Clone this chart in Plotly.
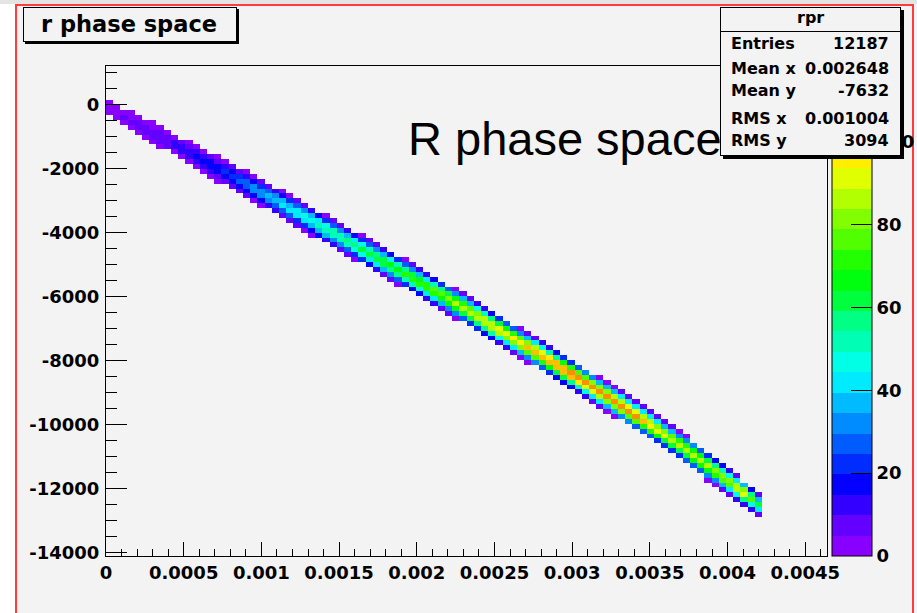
import numpy as np
import plotly.graph_objects as go

# ---------------- data ----------------
# 2D histogram binning (ROOT TH2 "rpr")
X_MIN, X_MAX, NX = 0.0, 0.00464, 100
Y_MIN, Y_MAX, NY = -14100.0, 1200.0, 100

# ridge of the populated band: x position, band-centre y, peak bin count, half thickness in y
ridge_x = [0.0, 0.0002, 0.0004, 0.0006, 0.0008, 0.0010, 0.0012, 0.0014, 0.0016, 0.0018,
           0.0020, 0.0022, 0.0024, 0.0026, 0.0028, 0.0030, 0.0032, 0.0034, 0.0036, 0.0038,
           0.0040, 0.0041, 0.0042]
ridge_y = [-60, -600, -1150, -1690, -2230, -2760, -3300, -3850, -4400, -4950,
           -5500, -6070, -6660, -7250, -7840, -8440, -9050, -9680, -10330, -11020,
           -11740, -12120, -12500]
ridge_peak = [3, 6, 10, 16, 24, 36, 44, 52, 60, 66,
              74, 82, 90, 96, 104, 110, 106, 108, 92, 86,
              84, 96, 60]
ridge_halfwidth = [220, 300, 340, 380, 410, 430, 440, 450, 460, 460,
                   465, 470, 470, 470, 470, 470, 470, 460, 455, 450,
                   440, 420, 350]
x_end = 0.00422
# cross-section profile across the band (fraction of peak vs distance / half thickness)
profile_r = [0.0, 0.2, 0.4, 0.6, 0.8, 0.95, 1.0]
profile_f = [1.0, 0.92, 0.70, 0.42, 0.18, 0.06, 0.0]

# axis ticks
x_tickvals = [0, 0.0005, 0.001, 0.0015, 0.002, 0.0025, 0.003, 0.0035, 0.004, 0.0045]
x_ticktext = ["0", "0.0005", "0.001", "0.0015", "0.002", "0.0025", "0.003", "0.0035", "0.004", "0.0045"]
y_tickvals = [-14000, -12000, -10000, -8000, -6000, -4000, -2000, 0]
y_ticktext = ["-14000", "-12000", "-10000", "-8000", "-6000", "-4000", "-2000", "0"]
z_tickvals = [0, 20, 40, 60, 80, 100]
Z_MAX = 118.3

# statistics box
stats_title = "rpr"
stats_labels = ["Entries", "Mean x", "Mean y", "RMS x", "RMS y"]
stats_values = ["12187", "0.002648", "-7632", "0.001004", "3094"]

# ROOT "pretty" palette, 24 contour bands
palette = ["#8800ff", "#6300ff", "#3300ff", "#0300ff", "#002cff", "#005cff", "#008bff", "#00bbff",
           "#00ebff", "#00ffe4", "#00ffb4", "#00ff85", "#00ff3d", "#00ff0e", "#22ff00", "#52ff00",
           "#81ff00", "#b1ff00", "#e0ff00", "#ffee00", "#ffbe00", "#ff8f00", "#ff5f00", "#ff3000"]

# ---------------- build histogram ----------------
xe = np.linspace(X_MIN, X_MAX, NX + 1)
ye = np.linspace(Y_MIN, Y_MAX, NY + 1)
xc = 0.5 * (xe[:-1] + xe[1:])
yc = 0.5 * (ye[:-1] + ye[1:])
z = np.full((NY, NX), np.nan)
for i, x in enumerate(xc):
    if x > x_end:
        continue
    c = np.interp(x, ridge_x, ridge_y)
    p = np.interp(x, ridge_x, ridge_peak)
    h = np.interp(x, ridge_x, ridge_halfwidth)
    r = np.abs(yc - c) / h
    f = np.interp(r, profile_r, profile_f, right=0.0)
    inside = r < 1.0
    z[inside, i] = np.maximum(1.0, np.round(p * f[inside]))

nb = len(palette)
colorscale = []
for k, col in enumerate(palette):
    colorscale.append([k / nb, col])
    colorscale.append([(k + 1) / nb, col])

# ---------------- geometry (pixels) ----------------
W, H = 917, 613
L, R, T, B = 106, 827, 66, 556
def px(xp):
    return (xp - L) / (R - L)
def py(yp):
    return (B - yp) / (B - T)

BG = "#f3f3f3"
BOLD = "DejaVu Sans"

fig = go.Figure()
fig.add_trace(go.Heatmap(
    x=xc, y=yc, z=z, zmin=0, zmax=Z_MAX, colorscale=colorscale, zsmooth=False,
    hoverongaps=False,
    colorbar=dict(
        x=px(832), xanchor="left", xref="paper", y=0, yanchor="bottom", yref="paper",
        len=1, lenmode="fraction", thickness=40, thicknessmode="pixels",
        xpad=0, ypad=0, outlinewidth=1, outlinecolor="black",
        ticks="inside", ticklen=21, tickwidth=1, tickcolor="black",
        tickmode="array", tickvals=z_tickvals, ticktext=[str(v) for v in z_tickvals],
        tickfont=dict(family=BOLD, size=18, color="black", weight="bold"),
        ticklabelposition="outside",
    ),
))

axis_common = dict(showgrid=False, zeroline=False, showline=True, linecolor="black", linewidth=1,
                   mirror=True, ticks="inside", tickcolor="black", tickwidth=1,
                   tickfont=dict(family=BOLD, size=18, color="black", weight="bold"))
fig.update_xaxes(range=[X_MIN, X_MAX], tickmode="array", tickvals=x_tickvals, ticktext=x_ticktext,
                 ticklen=14, minor=dict(dtick=0.0001, tick0=0, ticks="inside", ticklen=7,
                                        tickcolor="black", tickwidth=1),
                 **axis_common)
fig.update_yaxes(range=[Y_MIN, Y_MAX], tickmode="array", tickvals=y_tickvals, ticktext=y_ticktext,
                 ticklen=21, minor=dict(dtick=500, tick0=0, ticks="inside", ticklen=11,
                                        tickcolor="black", tickwidth=1),
                 ticklabelstandoff=2,
                 **axis_common)

shapes = [
    dict(type="rect", xref="paper", yref="paper", x0=px(0), x1=px(15), y0=py(H), y1=py(0),
         fillcolor="white", line=dict(width=0), layer="below"),
    dict(type="rect", xref="paper", yref="paper", x0=px(0), x1=px(W), y0=py(4), y1=py(0),
         fillcolor="#e4e4e4", line=dict(width=0), layer="below"),
    dict(type="rect", xref="paper", yref="paper", x0=px(16), x1=px(913), y0=py(H + 5), y1=py(5),
         fillcolor="rgba(0,0,0,0)", line=dict(color="#ff3b3b", width=2), layer="above"),
]
fig.update_layout(shapes=shapes)

ann = []
ann.append(dict(text="R phase space", xref="paper", yref="paper", x=px(406), y=py(138),
                xanchor="left", yanchor="middle", showarrow=False,
                font=dict(family="Liberation Sans", size=47, color="black")))
def box(x0, y0, x1, y1, fill, bw=1):
    return dict(text=" ", xref="paper", yref="paper", x=px((x0 + x1) / 2), y=py((y0 + y1) / 2),
                xanchor="center", yanchor="middle", showarrow=False, width=x1 - x0 - bw,
                height=y1 - y0 - bw, bgcolor=fill, bordercolor="black", borderwidth=bw, borderpad=0,
                font=dict(size=1))
ann.append(box(25.3, 9.3, 238.7, 43.7, "black"))
ann.append(box(23.3, 7.3, 236.7, 41.7, BG))
ann.append(dict(text="r phase space", xref="paper", yref="paper", x=px(129), y=py(24),
                xanchor="center", yanchor="middle", showarrow=False,
                font=dict(family=BOLD, size=22.5, color="black", weight="bold")))
ann.append(box(723.7, 10.3, 904, 158, "black"))
ann.append(box(720.7, 7.3, 901, 155, BG))
ann.append(dict(text=" ", xref="paper", yref="paper", x=px(810.85), y=py(31.7), xanchor="center",
                yanchor="middle", showarrow=False, width=180, height=1, bgcolor="black",
                borderwidth=0, borderpad=0, font=dict(size=1)))
ann.append(dict(text=stats_title, xref="paper", yref="paper", x=px(810.85), y=py(18),
                xanchor="center", yanchor="middle", showarrow=False,
                font=dict(family=BOLD, size=16, color="black", weight="bold")))
row_y = [44, 69, 90, 118, 140]
for lab, val, yy in zip(stats_labels, stats_values, row_y):
    ann.append(dict(text=lab, xref="paper", yref="paper", x=px(729), y=py(yy), xanchor="left",
                    yanchor="middle", showarrow=False,
                    font=dict(family=BOLD, size=16, color="black", weight="bold")))
    ann.append(dict(text=val, xref="paper", yref="paper", x=px(891), y=py(yy), xanchor="right",
                    yanchor="middle", showarrow=False,
                    font=dict(family=BOLD, size=16, color="black", weight="bold")))
fig.update_layout(annotations=ann)

fig.update_layout(
    width=W, height=H, autosize=False,
    margin=dict(l=L, r=W - R, t=T, b=H - B, pad=0, autoexpand=False),
    paper_bgcolor=BG, plot_bgcolor=BG,
    showlegend=False,
)
fig.write_html("out.html")
